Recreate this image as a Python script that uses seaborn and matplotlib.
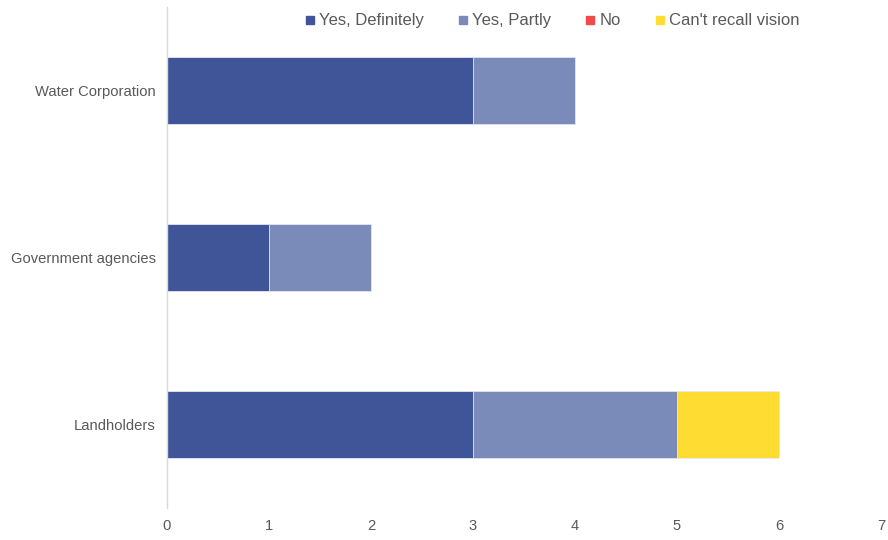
import matplotlib
matplotlib.use("Agg")
import matplotlib.pyplot as plt
import seaborn as sns
import pandas as pd
import numpy as np
from matplotlib.lines import Line2D

categories = ["Water Corporation", "Government agencies", "Landholders"]
series_names = ["Yes, Definitely", "Yes, Partly", "No", "Can't recall vision"]
yes_definitely = [3, 1, 3]
yes_partly = [1, 1, 2]
no_vals = [0, 0, 0]
cant_recall = [0, 0, 1]
colors = ["#3F5597", "#7A8BBA", "#F04A4A", "#FFDC32"]
x_ticks = [0, 1, 2, 3, 4, 5, 6, 7]

sns.set_theme(style="white")
plt.rcParams['font.family'] = ['Liberation Sans', 'DejaVu Sans']

fig = plt.figure(figsize=(8.88, 5.4), dpi=100)
ax = fig.add_axes([0.188, 0.059, 0.804, 0.928])

series = [yes_definitely, yes_partly, no_vals, cant_recall]
cum = np.cumsum(np.array(series, dtype=float), axis=0)
# draw from largest cumulative to smallest
for i in range(len(series) - 1, -1, -1):
    df = pd.DataFrame({"cat": categories, "val": cum[i]})
    sns.barplot(data=df, x="val", y="cat", orient="h", color=colors[i],
                saturation=1, width=0.4, ax=ax, edgecolor="#E6E9F2",
                linewidth=0.6, errorbar=None)

ax.set_xlim(0, 7)
ax.set_ylim(2.5, -0.5)
ax.set_xticks(x_ticks)
ax.set_xticklabels([str(t) for t in x_ticks])
ax.set_xlabel("")
ax.set_ylabel("")
ax.tick_params(axis="both", length=0, colors="#595959", labelsize=10.6)
ax.tick_params(axis="x", pad=8)
ax.tick_params(axis="y", pad=8)
for s in ["top", "right", "bottom"]:
    ax.spines[s].set_visible(False)
ax.spines["left"].set_color("#D9D9D9")
ax.spines["left"].set_linewidth(1)

handles = [Line2D([0], [0], marker="s", linestyle="", markersize=6,
                  markerfacecolor=c, markeredgecolor=c) for c in colors]
fig.legend(handles, series_names, loc="upper center", ncol=4,
           bbox_to_anchor=(0.62, 1.003), frameon=False, fontsize=12.0,
           handletextpad=0.05, columnspacing=1.85, labelcolor="#595959",
           handlelength=1.0)

fig.savefig("out.png", dpi=100)
